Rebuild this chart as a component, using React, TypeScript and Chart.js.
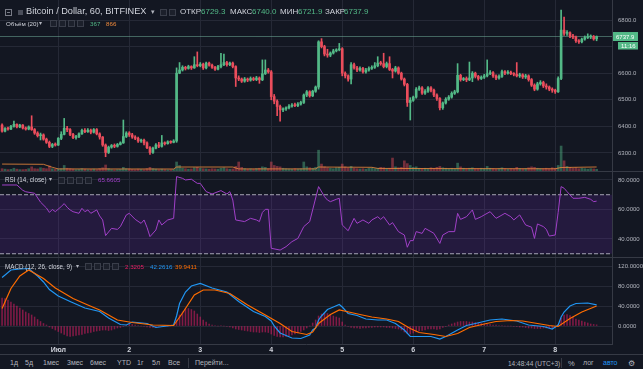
import React, { useEffect, useRef } from 'react';
import { Chart, registerables } from 'chart.js';

Chart.register(...registerables);

// ---------------- data ----------------
const firstIndex = -19; // hour index of the first candle (0 = 1 July 00:00)

const opens = [
  6405,6382,6392,6390,6400,6408,6398,6405,6394,6390,6398,6388,6375,6365,6368,6352,6340,6325,6332,
  6330,6355,6370,6393,6388,6370,6358,6362,6372,6385,6380,6386,6378,6388,6372,6360,6330,6302,6322,6328,6325,6332,6338,6362,
  6375,6368,6360,6355,6345,6348,6338,6320,6302,6318,6330,6325,6338,6335,6342,6340,6345,6600,6612,6622,6618,6625,6620,6632,
  6628,6634,6620,6638,6630,6622,6615,6625,6632,6640,6632,6638,6625,6582,6578,6570,6578,6574,6580,6576,6582,6575,6598,6612,
  6605,6512,6495,6475,6462,6466,6470,6476,6480,6478,6484,6490,6518,6530,6515,6532,6548,6718,6700,6672,6668,6676,6684,6688,
  6692,6600,6590,6578,6632,6620,6612,6618,6605,6612,6618,6622,6628,6638,6636,6625,6636,6614,6608,6620,6600,6578,6558,6490,
  6498,6510,6540,6545,6525,6532,6545,6536,6518,6505,6470,6488,6502,6510,6524,6530,6592,6576,6580,6575,6582,6600,6588,6580,
  6585,6590,6598,6602,6590,6582,6588,6606,6600,6604,6598,6596,6590,6594,6586,6590,6576,6555,6540,6560,6565,6552,6548,6540,
  6536,6530,6580,6762,6750,6752,6740,6736,6722,6718,6728,6734,6736,6738,6729.3,
];
const highs = [
  6410,6396,6397,6404,6420,6410,6408,6407,6398,6402,6440,6392,6380,6375,6372,6356,6345,6336,6338,
  6358,6380,6430,6400,6392,6374,6366,6376,6390,6392,6392,6390,6392,6392,6376,6362,6334,6326,6332,6334,6336,6342,6424,6380,
  6380,6374,6365,6360,6352,6352,6342,6324,6322,6335,6340,6366,6342,6346,6346,6350,6620,6640,6628,6626,6630,6628,6662,6680,
  6640,6638,6642,6642,6634,6626,6630,6675,6672,6645,6642,6642,6628,6590,6582,6584,6582,6586,6585,6588,6586,6650,6650,6618,
  6610,6520,6500,6480,6470,6474,6482,6486,6488,6490,6495,6522,6535,6534,6536,6552,6722,6730,6705,6690,6680,6690,6692,6712,
  6696,6605,6594,6640,6638,6626,6624,6622,6618,6624,6628,6640,6662,6645,6675,6642,6662,6618,6626,6624,6604,6582,6562,6508,
  6514,6546,6552,6550,6538,6550,6550,6540,6522,6508,6492,6508,6516,6530,6536,6636,6596,6584,6586,6642,6606,6604,6592,6590,
  6596,6650,6610,6606,6594,6594,6612,6610,6610,6608,6602,6640,6600,6598,6596,6594,6580,6560,6566,6572,6570,6560,6552,6545,
  6540,6586,6837,6811,6760,6756,6746,6740,6726,6732,6740,6748,6744,6742,6740,
];
const lows = [
  6378,6379,6386,6388,6397,6394,6395,6390,6386,6387,6385,6370,6360,6349,6348,6336,6320,6320,6326,
  6328,6350,6368,6380,6365,6354,6352,6358,6370,6376,6377,6372,6375,6368,6352,6325,6286,6298,6318,6320,6322,6330,6336,6358,
  6362,6355,6350,6340,6340,6330,6316,6295,6298,6315,6320,6322,6330,6333,6336,6338,6340,6598,6608,6612,6615,6614,6618,6624,
  6624,6614,6616,6626,6618,6610,6612,6620,6628,6626,6628,6620,6550,6572,6565,6566,6568,6570,6572,6572,6562,6572,6595,6600,
  6500,6485,6440,6420,6455,6460,6466,6472,6474,6474,6480,6486,6512,6510,6512,6528,6540,6695,6665,6660,6662,6672,6680,6684,
  6590,6582,6570,6560,6615,6606,6608,6600,6600,6608,6614,6618,6624,6630,6620,6620,6610,6582,6604,6596,6574,6552,6475,6424,
  6494,6506,6535,6520,6520,6528,6530,6512,6498,6462,6464,6484,6498,6506,6520,6526,6570,6572,6568,6572,6568,6582,6574,6576,
  6580,6586,6594,6584,6576,6578,6584,6594,6596,6594,6590,6586,6584,6580,6580,6570,6550,6534,6536,6555,6546,6540,6534,6528,
  6524,6528,6576,6742,6742,6734,6730,6716,6712,6714,6724,6730,6730,6724,6721.9,
];
const closes = [
  6382,6392,6390,6400,6408,6398,6405,6394,6390,6398,6388,6375,6365,6368,6352,6340,6325,6332,6330,
  6355,6370,6393,6388,6370,6358,6362,6372,6385,6380,6386,6378,6388,6372,6360,6330,6302,6322,6328,6325,6332,6338,6362,6375,
  6368,6360,6355,6345,6348,6338,6320,6302,6318,6330,6325,6338,6335,6342,6340,6345,6600,6612,6622,6618,6625,6620,6632,6628,
  6634,6620,6638,6630,6622,6615,6625,6632,6640,6632,6638,6625,6582,6578,6570,6578,6574,6580,6576,6582,6575,6598,6612,6605,
  6512,6495,6475,6462,6466,6470,6476,6480,6478,6484,6490,6518,6530,6515,6532,6548,6718,6700,6672,6668,6676,6684,6688,6692,
  6600,6590,6578,6632,6620,6612,6618,6605,6612,6618,6622,6628,6638,6636,6625,6636,6614,6608,6620,6600,6578,6558,6490,6498,
  6510,6540,6545,6525,6532,6545,6536,6518,6505,6470,6488,6502,6510,6524,6530,6592,6576,6580,6575,6582,6600,6588,6580,6585,
  6590,6598,6602,6590,6582,6588,6606,6600,6604,6598,6596,6590,6594,6586,6590,6576,6555,6540,6560,6565,6552,6548,6540,6536,
  6530,6580,6762,6750,6752,6740,6736,6722,6718,6728,6734,6736,6738,6729,6737.9,
];
const volumes = [
  500,400,300,350,600,400,300,300,350,500,900,500,450,700,600,500,1100,500,400,
  450,500,1200,600,500,400,300,350,500,400,300,350,400,300,500,700,1300,500,300,250,300,350,800,500,
  450,350,300,400,350,300,500,800,500,400,300,400,300,250,300,350,1950,1200,600,500,400,450,700,800,
  600,500,450,400,500,450,400,600,700,500,400,450,1000,1950,800,500,400,450,400,500,600,900,800,500,
  1950,1200,1000,900,600,500,450,400,500,450,500,1950,900,700,600,800,4500,1500,900,700,600,500,700,800,
  1500,900,700,1000,600,500,450,500,400,600,700,500,600,800,700,500,600,2800,900,700,800,2200,1600,1200,
  800,900,600,500,600,500,700,600,800,1000,700,600,500,600,500,1700,900,600,500,600,700,500,500,600,
  500,1000,600,500,400,500,700,500,400,500,450,800,500,450,500,700,900,800,600,500,500,600,500,700,
  600,1200,5400,2200,1000,800,600,700,500,600,500,400,500,450,367,
];
const volMaPoints: [number, number][] = [
  [-19,1500],[-5,1450],[-2,800],[0,450],[39,430],[40,860],[59,860],[61,450],[87,450],[88,860],
  [106,800],[108,560],[130,520],[150,500],[168,480],[170,760],[182,866],
];
const rsiPoints: [number, number][] = [
  [-19,76.6],[-14,76.6],[-12,73],[-11,72],[-8,71],[-6,65],[-4,61],[-3,58],[-2,60],[-1,58.5],[1,62],[2,64],[3,61.5],
  [4,59.7],[5,58.5],[7,57.4],[8,60.8],[9,58.5],[10,59.7],[11,57.4],[13,59.7],[14,55.6],[15,52.9],[16,42.3],[18,47.2],
  [20,46.5],[21,48.4],[23,56.3],[24,57.4],[26,53.3],[28,50.6],[29,52.9],[30,47.9],[31,41.6],[33,46.1],[34,52.9],[35,49.5],
  [37,52.9],[39,54],[40,82.3],[42,81.1],[43,80],[45,80.5],[47,77.7],[48,77.7],[50,72.1],[52,70.5],[55,72.8],[57,70.5],
  [58,72.1],[59,66.4],[60,52.9],[63,51.8],[65,54],[67,52.9],[68,51.8],[69,58],[70,60.1],[71,60.1],[72,33.7],[75,32.5],
  [77,34.8],[79,38.2],[81,40.4],[83,48.4],[85,51.8],[86,59.7],[88,75.5],[90,68.7],[91,66.4],[92,65.3],[94,66.9],[95,67.6],
  [96,49.5],[98,45.6],[100,54],[101,50.6],[103,52.9],[105,50.6],[106,52.9],[108,55.1],[109,53.3],[110,55.1],[112,49.5],
  [113,51.1],[115,45],[117,42.7],[118,34.4],[119,38.9],[120,38.9],[121,45],[123,43.8],[124,47.2],[126,45],[127,43.8],
  [129,37],[130,42.7],[132,45],[134,45],[135,57.4],[136,53.3],[138,55.1],[140,59.7],[141,53.3],[143,55.1],[144,56.3],
  [146,58.5],[148,54],[149,55.1],[151,57.4],[153,55.1],[154,52.9],[156,56.3],[158,49.5],[160,48],[161,40.4],[162,50.2],
  [164,48.4],[165,46.5],[166,42],[168,42.7],[169,58],[170,75.5],[171,74.4],[172,72.1],[174,67.6],[176,67.6],[178,68.2],
  [180,66.9],[181,65.3],[182,65.66],
];
const macdPoints: [number, number][] = [
  [-19,97],[-16,112],[-13,114],[-10,115],[-7,100],[-5,88],[-3,73],[0,60],[4,49],[9,36],[14,29],[17,16],[21,3],[23,2],
  [25,8],[30,5],[33,-3],[38,1],[39,2],[40,20],[41,45],[43,68],[45,80],[48,85],[52,76],[57,68],[61,49],[66,29],[70,19],
  [72,10],[73,0],[75,-14],[79,-24],[82,-25],[85,-18],[86,-8],[87,-4],[88,12],[89,20],[91,33],[93,38],[95,43],[96,38],
  [98,25],[101,21],[104,14],[108,12],[111,12],[114,5],[117,-8],[119,-21],[122,-21],[126,-21],[129,-26],[131,-21],
  [135,-8],[138,1],[141,5],[146,12],[150,14],[155,10],[159,2],[164,-1],[167,-6],[169,2],[170,18],[171,28],[173,40],
  [175,45],[179,46],[182,42.26],
];
const signalPoints: [number, number][] = [
  [-19,35],[-16,75],[-13,100],[-10,112],[-5,95],[-1,76],[5,55],[10,42],[14,32],[20,12],[25,7],[32,2],[39,1],[42,26],
  [46,62],[49,72],[53,72],[58,65],[64,42],[70,22],[75,5],[79,-11],[84,-17],[86,-12],[88,5],[92,23],[95,32],[99,27],
  [102,23],[106,18],[111,14],[115,9],[119,-5],[122,-13],[127,-17],[131,-21],[135,-15],[139,-3],[144,4],[148,9],[153,11],
  [157,10],[162,5],[166,1],[169,-1],[173,15],[177,28],[182,39.94],
];
const histValues = [
  56,55,52,48,44,40,36,32,28,25,22,18,13,9,5,2,-2,-5,-8,
  -11,-14,-17,-20,-21,-20,-19,-18,-17,-15,-14,-13,-11,-10,-9,-8,-8,-9,-8,-6,-4,-3,-1,1,
  3,3,2,1,0,-1,-2,-3,-3,-2,-1,-1,0,0,0,1,12,22,28,34,35,33,30,24,
  18,12,8,4,2,1,0,1,0,-1,-2,-4,-6,-7,-8,-9,-10,-11,-12,-12,-13,-12,-12,-13,
  -16,-19,-21,-22,-22,-21,-20,-18,-16,-14,-11,-8,-4,0,6,12,20,24,26,25,23,20,18,16,
  8,2,-1,-3,-4,-4,-5,-4,-4,-3,-3,-2,-2,-2,-2,-3,-3,-4,-5,-6,-8,-12,-15,-16,
  -14,-12,-10,-9,-8,-6,-6,-6,-7,-6,-3,-1,2,4,6,8,9,9,9,8,8,7,6,5,
  4,3,3,2,2,1,1,0,0,0,-1,-1,-2,-2,-3,-4,-4,-5,-5,-5,-4,-4,-4,-4,
  -3,3,16,22,23,21,18,14,12,10,8,6,4,3,2.32,
];
const dayTicks = [0, 24, 48, 72, 96, 120, 144, 168];
const dayLabels = ['Июл', '2', '3', '4', '5', '6', '7', '8'];
const priceTicks = [6300, 6400, 6500, 6600, 6700, 6800];
const rsiTicks = [40, 60, 80];
const macdTicks = [0, 40, 80, 120];
const rsiBands = [70, 30];
const lastPrice = 6737.9;
const countdown = '11:16';
const title = 'Bitcoin / Dollar, 60, BITFINEX';
const ohlcLabels = ['ОТКР', 'МАКС', 'МИН', 'ЗАКР'];
const ohlcValues = ['6729.3', '6740.0', '6721.9', '6737.9'];
const volLegend = ['367', '866'];
const rsiLegend = '65.6605';
const macdLegend = ['2.3205', '42.2616', '39.9411'];
const rangeButtons = ['1д', '5д', '1мес', '3мес', '6мес', 'YTD', '1г', '5л', 'Все'];

// ---------------- styles / layout ----------------
const FONT = "'Liberation Sans', Arial, sans-serif";
const BG = '#131722';
const GRID = '#252936';
const SEP = '#363a45';
const TICK = '#b2b5be';
const TEXT = '#d1d4dc';
const GREEN = '#53b987';
const RED = '#eb4d5c';
const BLUE = '#2196f3';
const ORANGE = '#ff6d00';
const PINK = '#e91e63';
const PURPLE = '#a040c8';
const W = 643;
const AXIS_W = 31;
const X_MIN = -19.7;
const X_MAX = 187.2;

const candleX = opens.map((_, k) => firstIndex + k);
const isUp = (k: number) => closes[k] >= opens[k];

const xScale = (show: boolean) => ({
  type: 'linear',
  min: X_MIN,
  max: X_MAX,
  bounds: 'data',
  offset: false,
  afterBuildTicks: (s: any) => { s.ticks = dayTicks.map((v) => ({ value: v })); },
  afterFit: (s: any) => { s.height = show ? 10 : 0; s.paddingLeft = 0; s.paddingRight = 0; },
  grid: { color: GRID, drawTicks: false, offset: false },
  border: { display: show, color: SEP },
  ticks: {
    display: show, autoSkip: false, maxRotation: 0, padding: 2, color: TEXT,
    font: { family: FONT, size: 7, weight: 'bold' },
    callback: (_v: any, i: number) => dayLabels[i],
  },
});

const yScale = (min: number, max: number, ticks: number[], dec: number) => ({
  type: 'linear',
  position: 'right',
  min, max,
  bounds: 'data',
  afterBuildTicks: (s: any) => { s.ticks = ticks.map((v) => ({ value: v })); },
  afterFit: (s: any) => { s.width = AXIS_W; s.paddingTop = 0; s.paddingBottom = 0; },
  grid: { color: GRID, drawTicks: false },
  border: { display: true, color: SEP },
  ticks: { padding: 6, autoSkip: false, color: TICK, font: { family: FONT, size: 6 }, callback: (v: any) => Number(v).toFixed(dec) },
});

const baseOptions = {
  animation: false,
  responsive: false,
  maintainAspectRatio: false,
  devicePixelRatio: 1,
  events: [],
  layout: { padding: 0 },
  plugins: { legend: { display: false }, tooltip: { enabled: false } },
};

const barBase = { grouped: false, categoryPercentage: 1, barPercentage: 1, borderWidth: 0 };
const lineBase = { pointRadius: 0, borderWidth: 1, tension: 0, fill: false };

const priceTag = {
  id: 'priceTag',
  afterDraw(chart: any) {
    const { ctx, chartArea } = chart;
    const y = chart.scales.y.getPixelForValue(lastPrice);
    const x0 = chartArea.right + 1;
    ctx.save();
    ctx.fillStyle = GREEN;
    ctx.fillRect(x0, y - 4.5, 25, 9);
    ctx.fillRect(x0 + 5, y + 5.5, 20, 7.5);
    ctx.fillStyle = '#ffffff';
    ctx.font = `6px ${FONT}`;
    ctx.textBaseline = 'middle';
    ctx.fillText(lastPrice.toFixed(1), x0 + 3, y + 0.5);
    ctx.fillText(countdown, x0 + 8, y + 9.5);
    ctx.restore();
  },
};

const mainConfig = (): any => ({
  type: 'bar',
  data: {
    datasets: [
      { ...barBase, type: 'bar', data: candleX.map((x, k) => ({ x, y: [opens[k], closes[k]] })),
        backgroundColor: candleX.map((_, k) => (isUp(k) ? GREEN : RED)), maxBarThickness: 2, minBarLength: 1, order: 0 },
      { ...barBase, type: 'bar', data: candleX.map((x, k) => ({ x, y: [lows[k], highs[k]] })),
        backgroundColor: candleX.map((_, k) => (isUp(k) ? GREEN : RED)), maxBarThickness: 1, order: 1 },
      { ...lineBase, type: 'line', data: [{ x: X_MIN, y: lastPrice }, { x: X_MAX, y: lastPrice }],
        borderColor: 'rgba(110,170,150,0.55)', order: 2 },
      { ...lineBase, type: 'line', yAxisID: 'vol', data: volMaPoints.map(([x, y]) => ({ x, y })),
        borderColor: 'rgba(240,140,60,0.8)', order: 3 },
      { ...barBase, type: 'bar', yAxisID: 'vol', data: candleX.map((x, k) => ({ x, y: volumes[k] })),
        backgroundColor: candleX.map((_, k) => (isUp(k) ? 'rgba(83,185,135,0.45)' : 'rgba(235,77,92,0.45)')),
        maxBarThickness: 2, order: 4 },
    ],
  },
  options: {
    ...baseOptions,
    scales: {
      x: xScale(false),
      y: yScale(6232.3, 6875.2, priceTicks, 1),
      vol: { type: 'linear', display: false, position: 'left', min: 0, max: 37000 },
    },
  },
  plugins: [priceTag],
});

const rsiConfig = (): any => ({
  type: 'line',
  data: {
    datasets: [
      { ...lineBase, data: [{ x: X_MIN, y: rsiBands[0] }, { x: X_MAX, y: rsiBands[0] }], borderColor: 'rgba(190,190,205,0.85)',
        borderDash: [4, 2], fill: '+1', backgroundColor: 'rgba(126,40,200,0.17)', order: 2 },
      { ...lineBase, data: [{ x: X_MIN, y: rsiBands[1] }, { x: X_MAX, y: rsiBands[1] }], borderColor: 'rgba(190,190,205,0.85)',
        borderDash: [4, 2], order: 1 },
      { ...lineBase, data: rsiPoints.map(([x, y]) => ({ x, y })), borderColor: PURPLE, order: 0 },
    ],
  },
  options: { ...baseOptions, scales: { x: xScale(false), y: yScale(27.8, 85.4, rsiTicks, 4) } },
});

const macdConfig = (): any => ({
  type: 'bar',
  data: {
    datasets: [
      { ...lineBase, type: 'line', data: signalPoints.map(([x, y]) => ({ x, y })), borderColor: ORANGE, borderWidth: 1.2, order: 0 },
      { ...lineBase, type: 'line', data: macdPoints.map(([x, y]) => ({ x, y })), borderColor: BLUE, borderWidth: 1.2, order: 1 },
      { ...barBase, type: 'bar', data: candleX.map((x, k) => ({ x, y: histValues[k] })), backgroundColor: 'rgba(220,30,100,0.55)',
        maxBarThickness: 0.9, order: 2 },
    ],
  },
  options: { ...baseOptions, scales: { x: xScale(true), y: yScale(-36, 136, macdTicks, 4) } },
});

function ChartCanvas({ make, top, height }: { make: () => any; top: number; height: number }) {
  const ref = useRef<HTMLCanvasElement>(null);
  useEffect(() => {
    const chart = new Chart(ref.current as HTMLCanvasElement, make());
    return () => chart.destroy();
  }, []);
  return (
    <canvas ref={ref} width={W} height={height}
      style={{ position: 'absolute', left: 0, top, width: W, height, display: 'block' }} />
  );
}

const T = ({ x, y, size = 7, color = TEXT, weight, children }: any) => (
  <span style={{ position: 'absolute', left: x, top: y - size * 0.6, fontSize: size, lineHeight: `${size * 1.2}px`,
    color, fontWeight: weight, whiteSpace: 'nowrap' }}>{children}</span>
);

const Icons = ({ x, y, n }: { x: number; y: number; n: number }) => (
  <>
    {Array.from({ length: n }, (_, k) => (
      <span key={k} style={{ position: 'absolute', left: x + k * 9, top: y - 3.5, width: 7, height: 7, boxSizing: 'border-box',
        border: '1px solid #3a3e4a', background: '#1c202b' }} />
    ))}
  </>
);

const HLine = ({ y }: { y: number }) => (
  <div style={{ position: 'absolute', left: 0, top: y, width: W, height: 1, background: SEP }} />
);
const VLine = ({ x, y, h }: { x: number; y: number; h: number }) => (
  <div style={{ position: 'absolute', left: x, top: y, width: 1, height: h, background: SEP }} />
);

const ohlcX = [180, 230, 280, 325];
const ohlcValX = [201, 252, 298, 344];
const rangeX = [10, 25, 43, 67, 90, 117, 137, 152, 168];

export default function App() {
  return (
    <div style={{ position: 'fixed', left: 0, top: 0, width: W, height: 369, background: BG, overflow: 'hidden', fontFamily: FONT }}>
      <ChartCanvas make={mainConfig} top={0} height={171} />
      <HLine y={171} />
      <ChartCanvas make={rsiConfig} top={172} height={85} />
      <HLine y={257} />
      <ChartCanvas make={macdConfig} top={258} height={96} />
      <HLine y={354} />

      {/* header row 1 */}
      <span style={{ position: 'absolute', left: 5, top: 9, width: 7, height: 7, boxSizing: 'border-box', border: '1px solid #787b86' }}>
        <span style={{ position: 'absolute', left: 1, top: 2, width: 3, height: 1, background: '#787b86' }} />
      </span>
      <span style={{ position: 'absolute', left: 18, top: 10, width: 5, height: 5, background: '#4a4e5a' }} />
      <T x={26} y={12} size={9.2}>{title}</T>
      <T x={151} y={12} size={7} color={TICK}>▾</T>
      <Icons x={160} y={12} n={2} />
      {ohlcLabels.map((l, k) => (
        <React.Fragment key={l}>
          <T x={ohlcX[k]} y={12} size={8}>{l}</T>
          <T x={ohlcValX[k]} y={12} size={8} color={GREEN}>{ohlcValues[k]}</T>
        </React.Fragment>
      ))}

      {/* header row 2: volume */}
      <T x={6} y={23.5} size={6.2}>Объём (20)</T>
      <T x={39} y={23.5} size={6} color={TICK}>▾</T>
      <Icons x={50} y={23.5} n={4} />
      <T x={90} y={23.5} size={6.2} color={GREEN}>{volLegend[0]}</T>
      <T x={106} y={23.5} size={6.2} color="#ef8a3c">{volLegend[1]}</T>

      {/* RSI legend */}
      <T x={5} y={180} size={6.3}>RSI (14, close)</T>
      <T x={49} y={180} size={6} color={TICK}>▾</T>
      <Icons x={58} y={180} n={4} />
      <T x={98} y={180} size={6.2} color={PURPLE}>{rsiLegend}</T>

      {/* MACD legend */}
      <T x={5} y={266.7} size={6.3}>MACD (12, 26, close, 9)</T>
      <T x={76} y={266.7} size={6} color={TICK}>▾</T>
      <Icons x={85} y={266.7} n={4} />
      <T x={125} y={266.7} size={6.2} color={PINK}>{macdLegend[0]}</T>
      <T x={150} y={266.7} size={6.2} color={BLUE}>{macdLegend[1]}</T>
      <T x={175} y={266.7} size={6.2} color={ORANGE}>{macdLegend[2]}</T>

      {/* bottom toolbar */}
      {rangeButtons.map((b, k) => (
        <T key={b} x={rangeX[k]} y={363.5} size={7} color={TICK}>{b}</T>
      ))}
      <VLine x={188} y={358} h={10} />
      <T x={195} y={363.5} size={7} color={TICK}>Перейти...</T>
      <T x={508} y={363.5} size={6.5} color={TICK}>14:48:44 (UTC+3)</T>
      <VLine x={561} y={358} h={10} />
      <T x={568} y={363.5} size={7.5} color={TICK}>%</T>
      <T x={583} y={363.5} size={7} color={TICK}>лог</T>
      <T x={603} y={363.5} size={7} color={BLUE}>авто</T>
      <T x={628} y={363.5} size={8} color={TICK}>⚙</T>
    </div>
  );
}
